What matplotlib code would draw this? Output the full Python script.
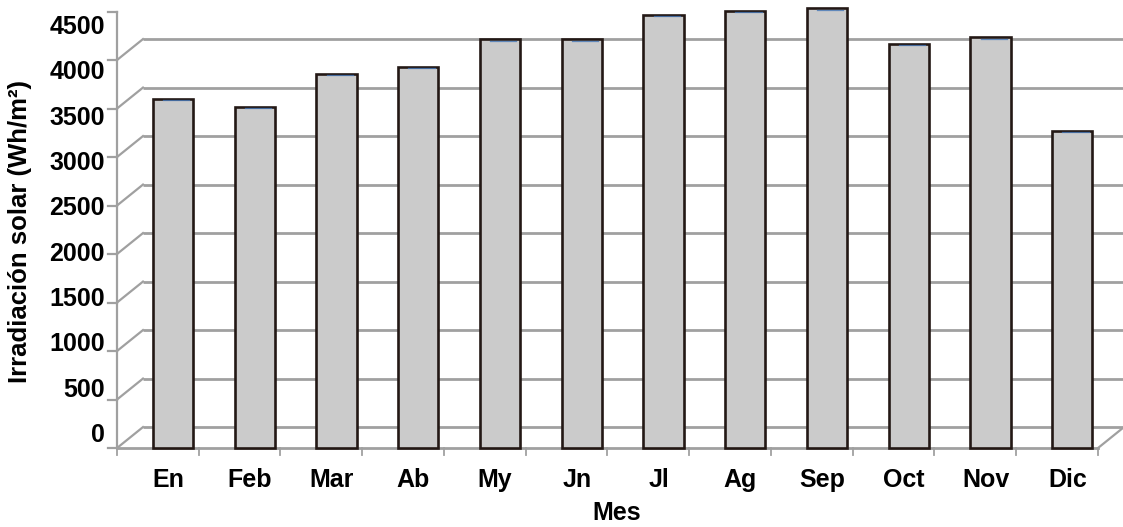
import matplotlib
matplotlib.use("Agg")
import matplotlib.pyplot as plt

# monthly solar irradiation (Wh/m2)
meses = ["En", "Feb", "Mar", "Ab", "My", "Jn", "Jl", "Ag", "Sep", "Oct", "Nov", "Dic"]
irradiacion = [3600, 3515, 3855, 3930, 4215, 4215, 4465, 4505, 4535, 4165, 4235, 3270]
niveles = [0, 500, 1000, 1500, 2000, 2500, 3000, 3500, 4000, 4500]

#==================Style===================
GRID = "#a0a0a0"
BAR_FILL = "#cbcbcb"
BAR_EDGE = "#231815"
FONT = ["Liberation Sans", "DejaVu Sans"]

# fake 3D box: front edge of the floor and the depth offset of the back wall
FRONT_LEFT = -0.685
FRONT_RIGHT = FRONT_LEFT + len(meses)
DEPTH_X = 0.318
DEPTH_Y = 216

plt.rcParams["font.family"] = FONT
plt.rcParams["font.weight"] = "bold"

fig = plt.figure(figsize=(11.23, 5.27), dpi=100)
ax = fig.add_axes([0, 0, 1, 1])
ax.set_xlim(-2.116, 11.621)
ax.set_ylim(-814, 4619)
ax.axis("off")

# back wall gridlines + the slanted lines on the left wall
for v in niveles:
    ax.plot([FRONT_LEFT + DEPTH_X, FRONT_RIGHT + DEPTH_X], [v + DEPTH_Y, v + DEPTH_Y],
            color=GRID, lw=2.0, solid_capstyle="butt", zorder=1)
    if v < 4500:
        ax.plot([FRONT_LEFT, FRONT_LEFT + DEPTH_X], [v, v + DEPTH_Y], color=GRID, lw=1.6, zorder=1)

# floor
ax.plot([FRONT_LEFT, FRONT_RIGHT], [0, 0], color=GRID, lw=2.0, zorder=1)
ax.plot([FRONT_RIGHT, FRONT_RIGHT + DEPTH_X], [0, DEPTH_Y], color=GRID, lw=1.6, zorder=1)

# front value axis with tick stubs
ax.plot([FRONT_LEFT, FRONT_LEFT], [0, 4500], color=GRID, lw=1.6, zorder=1)
for v in niveles:
    ax.plot([FRONT_LEFT - 0.11, FRONT_LEFT], [v, v], color=GRID, lw=1.6, zorder=1)
    # excel spreads the labels a bit tighter than the ticks
    ax.text(FRONT_LEFT - 0.15, 134 + 0.935 * v, str(v), ha="right", va="center",
            fontsize=18, fontweight="bold", family=FONT)

# category ticks under the floor
for k in range(len(meses) + 1):
    ax.plot([FRONT_LEFT + k, FRONT_LEFT + k], [0, -75], color=GRID, lw=1.3, zorder=1)

x = list(range(len(meses)))
ax.bar(x, irradiacion, width=0.49, color=BAR_FILL, edgecolor=BAR_EDGE, linewidth=1.9, zorder=3)
# thin blue rim on the column tops
for xi, v in zip(x, irradiacion):
    ax.plot([xi - 0.12, xi + 0.2], [v - 14, v - 14], color="#4677b8", lw=0.9, alpha=0.8, zorder=4)

for xi, m in zip(x, meses):
    ax.text(xi - 0.06, -330, m, ha="center", va="center", fontsize=18, fontweight="bold", family=FONT)

ax.text(5.43, -672, "Mes", ha="center", va="center", fontsize=18, fontweight="bold", family=FONT)
ax.text(-1.87, 2237, "Irradiación solar (Wh/m²)", rotation=90, ha="center", va="center",
        fontsize=18.5, fontweight="bold", family=FONT)

fig.savefig("out.png", dpi=100)
